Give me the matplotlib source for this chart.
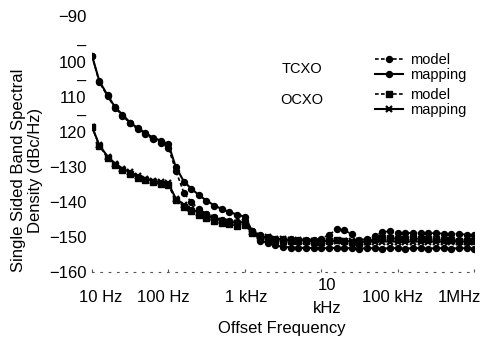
import numpy as np
import matplotlib
matplotlib.use('Agg')
import matplotlib.pyplot as plt
from matplotlib.transforms import ScaledTranslation

plt.rcParams['font.family'] = ['Liberation Sans', 'DejaVu Sans']

freq = [10, 12.5, 16, 20, 25, 31.5, 40, 50, 63, 80,
        100, 125, 160, 200, 250, 315, 400, 500, 630, 800,
        1e3, 1.25e3, 1.6e3, 2e3, 2.5e3, 3.15e3, 4e3, 5e3, 6.3e3, 8e3,
        1e4, 1.25e4, 1.6e4, 2e4, 2.5e4, 3.15e4, 4e4, 5e4, 6.3e4, 8e4,
        1e5, 1.25e5, 1.6e5, 2e5, 2.5e5, 3.15e5, 4e5, 5e5, 6.3e5, 8e5,
        1e6]

tcxo_model = [-98.2, -105.8, -109.8, -113.1, -115.3, -117.5, -119.2, -120.7, -122.0, -123.2,
              -124.5, -131.0, -137.5, -140.0, -142.0, -143.3, -144.3, -145.0, -145.5, -145.8,
              -145.5, -148.3, -149.5, -150.0, -150.5, -150.6, -150.7, -150.8, -150.9, -150.8,
              -150.5, -149.4, -147.8, -148.0, -149.2, -150.8, -150.6, -149.8, -148.6, -148.3,
              -148.9, -148.9, -148.8, -148.8, -148.9, -148.9, -149.0, -149.0, -149.1, -149.3, -149.4]

tcxo_map = [-98.2, -105.5, -109.5, -112.9, -115.0, -117.3, -118.9, -120.3, -121.6, -122.5,
            -123.5, -130.0, -134.2, -136.2, -138.0, -139.6, -141.0, -142.0, -142.9, -143.6,
            -144.2, -148.3, -151.0, -151.7, -152.4, -152.8, -153.0, -153.1, -153.1, -153.2,
            -153.2, -153.2, -153.1, -153.2, -153.2, -153.3, -153.2, -153.2, -153.3, -153.2,
            -153.2, -153.3, -153.2, -153.2, -153.3, -153.2, -153.2, -153.3, -153.2, -153.2, -153.3]

ocxo_model = [-118.5, -124.0, -127.3, -129.3, -130.8, -131.9, -133.0, -133.8, -134.4, -134.8,
              -135.2, -139.5, -141.3, -142.6, -143.6, -144.5, -145.4, -146.0, -146.4, -146.8,
              -146.6, -148.8, -150.0, -150.4, -150.8, -151.0, -151.1, -151.2, -151.2, -151.3,
              -151.3, -151.1, -150.8, -151.0, -151.4, -151.6, -151.2, -150.7, -150.3, -150.2,
              -150.5, -150.6, -150.4, -150.5, -150.6, -150.7, -150.8, -150.9, -151.0, -151.0, -151.1]

ocxo_map = [-118.5, -123.8, -127.0, -129.0, -130.5, -131.5, -132.6, -133.4, -133.9, -134.3,
            -134.7, -139.0, -140.8, -142.1, -143.0, -143.8, -144.7, -145.3, -145.7, -146.0,
            -145.6, -148.5, -149.8, -150.1, -150.5, -150.7, -150.8, -150.9, -151.0, -151.0,
            -151.1, -151.1, -151.2, -151.2, -151.2, -151.3, -151.3, -151.3, -151.3, -151.3,
            -151.3, -151.3, -151.3, -151.3, -151.3, -151.3, -151.3, -151.3, -151.3, -151.3, -151.3]

xticks = [10, 100, 1e3, 1e4, 1e5, 1e6]
xlabels = ['10 Hz', '100 Hz', '1 kHz', '10\nkHz', '100 kHz', '1MHz']
yticks = [-160, -150, -140, -130, -120, -110, -100, -90]
ylabels = ['\u2212160', '\u2212150', '\u2212140', '\u2212130', '120', '110', '100', '\u221290']

fig = plt.figure(figsize=(4.86, 3.42), dpi=100)
ax = fig.add_axes([92/486, 1-272/342, (474-92)/486, (272-27)/342])

dash = (0, (2.2, 1.4))
l1, = ax.plot(freq, tcxo_model, color='k', ls=dash, lw=1.2, marker='o', ms=4.3)
l2, = ax.plot(freq, tcxo_map, color='k', ls='-', lw=1.5, marker='o', ms=4.3)
l3, = ax.plot(freq, ocxo_model, color='k', ls=dash, lw=1.2, marker='s', ms=3.8)
l4, = ax.plot(freq, ocxo_map, color='k', ls='-', lw=1.5, marker='x', ms=4.3, mew=1.6)

ax.set_xscale('log')
ax.set_xlim(10, 1e6)
ax.set_ylim(-160, -90)
ax.set_xticks(xticks)
ax.set_xticklabels(xlabels)
ax.xaxis.set_minor_locator(plt.NullLocator())
ax.set_yticks(yticks)
ax.set_yticklabels(ylabels)
ax.set_yticks([-115, -105, -95], minor=True)
ax.set_yticklabels(['\u2013', '\u2013', '\u2013'], minor=True)

for s in ['top', 'right', 'left']:
  ax.spines[s].set_visible(False)
ax.spines['bottom'].set_linestyle((0, (1.5, 6)))
ax.spines['bottom'].set_color('#555555')
ax.spines['bottom'].set_linewidth(0.8)

ax.tick_params(axis='y', which='both', length=0, pad=4, labelsize=12)
ax.tick_params(axis='x', length=2, direction='in', color='#555555', pad=18, labelsize=12)
for lbl in ax.get_xticklabels():
  lbl.set_va('center')
  lbl.set_linespacing(1.6)

# nudge x labels like the original
shifts = [9, -5, 1, 6, -5, -15]
for t, dx in zip(ax.xaxis.get_major_ticks(), shifts):
  t.label1.set_transform(t.label1.get_transform() + ScaledTranslation(dx/100, 0, fig.dpi_scale_trans))
# the -90 label sits higher in the original
top = ax.yaxis.get_major_ticks()[-1]
top.label1.set_transform(top.label1.get_transform() + ScaledTranslation(0, 11/100, fig.dpi_scale_trans))

fig.text(282/486, 1-328/342, 'Offset Frequency', ha='center', va='center', fontsize=12)
fig.text(27/486, 1-170/342, 'Single Sided Band Spectral\nDensity (dBc/Hz)', rotation=90,
         ha='center', va='center', fontsize=12, multialignment='center', linespacing=1.15)

leg1 = fig.legend([l1, l2], ['model', 'mapping'], loc='upper left',
                  bbox_to_anchor=(368/486, 1-46/342), frameon=False, fontsize=10.5,
                  handlelength=1.9, handletextpad=0.5, labelspacing=0.05, borderpad=0)
leg2 = fig.legend([l3, l4], ['model', 'mapping'], loc='upper left',
                  bbox_to_anchor=(368/486, 1-81/342), frameon=False, fontsize=10.5,
                  handlelength=1.9, handletextpad=0.5, labelspacing=0.05, borderpad=0)
fig.text(302/486, 1-69/342, 'TCXO', ha='center', va='center', fontsize=10.5)
fig.text(302/486, 1-100/342, 'OCXO', ha='center', va='center', fontsize=10.5)

fig.savefig('out.png', dpi=100)
